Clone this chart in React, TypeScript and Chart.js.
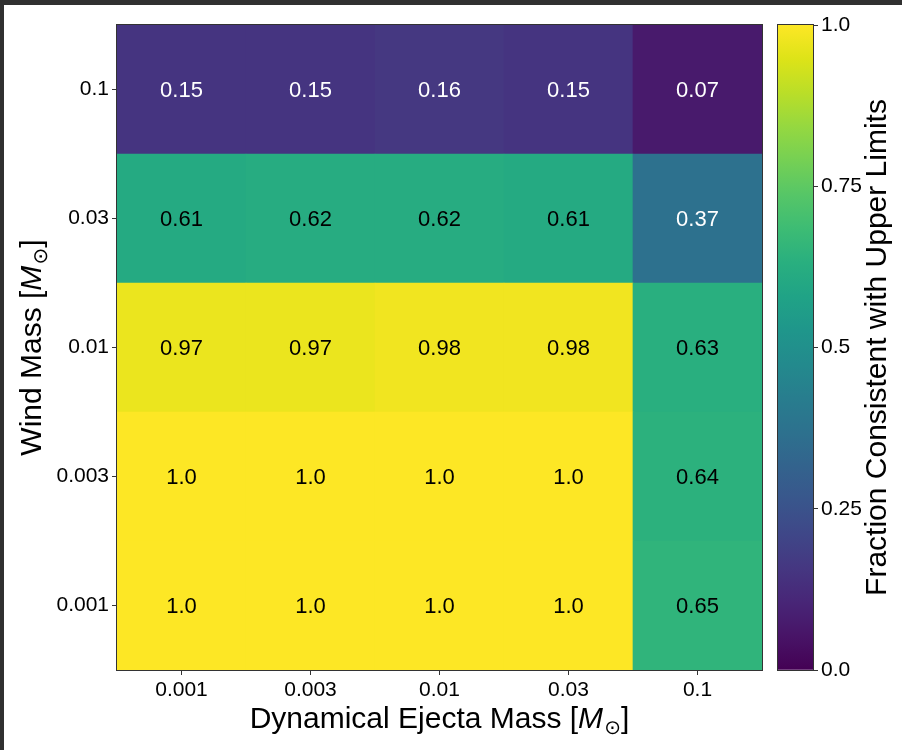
import React, { useEffect, useRef } from 'react';
import { Chart, registerables } from 'chart.js';

Chart.register(...registerables);

// ---------------- data ----------------
const ejectaLabels = ['0.001', '0.003', '0.01', '0.03', '0.1'];
const windLabels = ['0.1', '0.03', '0.01', '0.003', '0.001']; // top to bottom
const windRow_0_1 = [0.15, 0.15, 0.16, 0.15, 0.07];
const windRow_0_03 = [0.61, 0.62, 0.62, 0.61, 0.37];
const windRow_0_01 = [0.97, 0.97, 0.98, 0.98, 0.63];
const windRow_0_003 = [1.0, 1.0, 1.0, 1.0, 0.64];
const windRow_0_001 = [1.0, 1.0, 1.0, 1.0, 0.65];
const fractionRows = [windRow_0_1, windRow_0_03, windRow_0_01, windRow_0_003, windRow_0_001];
const colorbarTicks = [0, 0.25, 0.5, 0.75, 1.0];
const colorbarTickLabels = ['0.0', '0.25', '0.5', '0.75', '1.0'];
const xTitle = 'Dynamical Ejecta Mass ';
const yTitle = 'Wind Mass ';
const cbTitle = 'Fraction Consistent with Upper Limits';

// ---------------- styling ----------------
const FONT = '"Liberation Sans", Arial, Helvetica, sans-serif';
const SYMFONT = '"DejaVu Sans", "Liberation Sans", sans-serif';
const TITLE_SIZE = 30;
const TICK_SIZE = 21;
const CELL_SIZE = 22;
const FRAME = '#333333';

const VIRIDIS = [
  '#440154', '#481467', '#482677', '#453781', '#3f4788', '#39568c', '#33638d',
  '#2d718e', '#287d8e', '#238a8d', '#1f968b', '#20a386', '#29af7f', '#3dbc74',
  '#56c667', '#75d054', '#95d840', '#bade28', '#dde318', '#fde725',
];

function hexToRgb(h: string) {
  return [parseInt(h.slice(1, 3), 16), parseInt(h.slice(3, 5), 16), parseInt(h.slice(5, 7), 16)];
}

function viridis(v: number) {
  const t = Math.max(0, Math.min(1, v)) * (VIRIDIS.length - 1);
  const i = Math.min(Math.floor(t), VIRIDIS.length - 2);
  const f = t - i;
  const a = hexToRgb(VIRIDIS[i]);
  const b = hexToRgb(VIRIDIS[i + 1]);
  const c = a.map((x, k) => Math.round(x + (b[k] - x) * f));
  return `rgb(${c[0]},${c[1]},${c[2]})`;
}

function fmt(v: number) {
  return Number.isInteger(v) ? v.toFixed(1) : String(v);
}

function drawMassTitle(ctx: CanvasRenderingContext2D, prefix: string, cx: number, cy: number, rot: number, size: number) {
  const subSize = Math.round(size * 0.68);
  const parts = [
    { t: prefix + '[', f: `${size}px ${FONT}`, dy: 0 },
    { t: 'M', f: `italic ${size}px ${FONT}`, dy: 0 },
    { t: '\u2299', f: `${subSize}px ${SYMFONT}`, dy: size * 0.2 },
    { t: ']', f: `${size}px ${FONT}`, dy: 0 },
  ];
  ctx.save();
  let total = 0;
  const widths = parts.map((p) => {
    ctx.font = p.f;
    const w = ctx.measureText(p.t).width + (p.t === 'M' ? size * 0.04 : 0);
    total += w;
    return w;
  });
  ctx.translate(cx, cy);
  ctx.rotate(rot);
  ctx.fillStyle = '#000';
  ctx.textBaseline = 'alphabetic';
  ctx.textAlign = 'left';
  let x = -total / 2;
  parts.forEach((p, i) => {
    ctx.font = p.f;
    ctx.fillText(p.t, x, size * 0.36 + p.dy);
    x += widths[i];
  });
  ctx.restore();
}

const heatPlugin = {
  id: 'heatDecor',
  afterDatasetsDraw(chart: any) {
    const ctx = chart.ctx as CanvasRenderingContext2D;
    ctx.save();
    ctx.font = `${CELL_SIZE}px ${FONT}`;
    ctx.textAlign = 'center';
    ctx.textBaseline = 'middle';
    chart.data.datasets.forEach((ds: any, di: number) => {
      const meta = chart.getDatasetMeta(di);
      meta.data.forEach((el: any, j: number) => {
        const v = ds.fractions[j];
        ctx.fillStyle = v < 0.5 ? '#ffffff' : '#000000';
        ctx.fillText(fmt(v), el.x, (el.y + el.base) / 2 + 1);
      });
    });
    ctx.restore();
  },
  afterDraw(chart: any) {
    const ctx = chart.ctx as CanvasRenderingContext2D;
    const a = chart.chartArea;
    ctx.save();
    ctx.strokeStyle = FRAME;
    ctx.lineWidth = 1;
    ctx.strokeRect(a.left - 0.5, a.top - 0.5, a.right - a.left + 1, a.bottom - a.top + 1);
    ctx.restore();
    drawMassTitle(ctx, xTitle, (a.left + a.right) / 2, a.bottom + 47, 0, TITLE_SIZE);
    drawMassTitle(ctx, yTitle, a.left - 87, (a.top + a.bottom) / 2, -Math.PI / 2, TITLE_SIZE);
  },
};

const cbPlugin = {
  id: 'cbDecor',
  afterDraw(chart: any) {
    const ctx = chart.ctx as CanvasRenderingContext2D;
    const a = chart.chartArea;
    ctx.save();
    ctx.strokeStyle = FRAME;
    ctx.lineWidth = 1;
    ctx.strokeRect(a.left - 0.5, a.top - 0.5, a.right - a.left + 1, a.bottom - a.top + 1);
    ctx.translate(a.right + 65, (a.top + a.bottom) / 2);
    ctx.rotate(-Math.PI / 2);
    ctx.font = `${TITLE_SIZE}px ${FONT}`;
    ctx.fillStyle = '#000';
    ctx.textAlign = 'center';
    ctx.textBaseline = 'middle';
    ctx.fillText(cbTitle, 0, 0);
    ctx.restore();
  },
};

export default function App() {
  const heatRef = useRef<HTMLCanvasElement>(null);
  const cbRef = useRef<HTMLCanvasElement>(null);

  useEffect(() => {
    const nRows = windLabels.length;
    // stacked: bottom row first
    const datasets = fractionRows
      .map((row, i) => ({
        label: windLabels[i],
        data: row.map(() => 1),
        fractions: row,
        backgroundColor: row.map((v) => viridis(v)),
        borderWidth: 0,
        barPercentage: 1,
        categoryPercentage: 1,
      }))
      .reverse();

    const heat = new Chart(heatRef.current!, {
      type: 'bar',
      data: { labels: ejectaLabels, datasets: datasets as any },
      options: {
        responsive: false,
        animation: false,
        events: [],
        layout: { padding: { top: 25, left: 0, right: 8, bottom: 0 } },
        plugins: { legend: { display: false }, tooltip: { enabled: false } },
        scales: {
          x: {
            stacked: true,
            afterFit: (s: any) => { s.height = 80; },
            grid: { offset: false, drawOnChartArea: false, drawTicks: true, tickLength: 5, tickColor: FRAME },
            border: { display: false },
            ticks: { color: '#000', font: { family: FONT, size: TICK_SIZE }, padding: 3, maxRotation: 0 },
          },
          y: {
            stacked: true,
            min: 0,
            max: nRows,
            afterFit: (s: any) => { s.width = 117; },
            afterBuildTicks: (s: any) => { s.ticks = windLabels.map((_, i) => ({ value: nRows - 0.5 - i })); },
            grid: { drawOnChartArea: false, drawTicks: true, tickLength: 5, tickColor: FRAME },
            border: { display: false },
            ticks: {
              color: '#000',
              font: { family: FONT, size: TICK_SIZE },
              padding: 3,
              callback: (v: any) => windLabels[Math.round(nRows - 0.5 - Number(v))],
            },
          },
        },
      },
      plugins: [heatPlugin],
    });

    const cb = new Chart(cbRef.current!, {
      type: 'bar',
      data: {
        labels: ['cb'],
        datasets: [
          {
            data: [[colorbarTicks[0], colorbarTicks[colorbarTicks.length - 1]]] as any,
            backgroundColor: (c: any) => {
              const area = c.chart.chartArea;
              if (!area) return VIRIDIS[0];
              const g = c.chart.ctx.createLinearGradient(0, area.bottom, 0, area.top);
              VIRIDIS.forEach((col, i) => g.addColorStop(i / (VIRIDIS.length - 1), col));
              return g;
            },
            borderWidth: 0,
            barPercentage: 1,
            categoryPercentage: 1,
          },
        ],
      },
      options: {
        responsive: false,
        animation: false,
        events: [],
        layout: { padding: { top: 25, left: 8, right: 0, bottom: 80 } },
        plugins: { legend: { display: false }, tooltip: { enabled: false } },
        scales: {
          x: { display: false },
          y: {
            position: 'right',
            min: 0,
            max: 1,
            afterFit: (s: any) => { s.width = 89; },
            afterBuildTicks: (s: any) => { s.ticks = colorbarTicks.map((v) => ({ value: v })); },
            grid: { drawOnChartArea: false, drawTicks: true, tickLength: 5, tickColor: FRAME },
            border: { display: false },
            ticks: {
              color: '#000',
              font: { family: FONT, size: TICK_SIZE },
              padding: 3,
              callback: (v: any) => colorbarTickLabels[colorbarTicks.indexOf(Number(v))],
            },
          },
        },
      },
      plugins: [cbPlugin],
    });

    return () => {
      heat.destroy();
      cb.destroy();
    };
  }, []);

  return (
    <div style={{ position: 'absolute', left: 0, top: 0, width: 902, height: 750, background: '#fff', overflow: 'hidden' }}>
      <canvas ref={heatRef} width={770} height={750} style={{ position: 'absolute', left: 0, top: 0, width: 770, height: 750 }} />
      <canvas ref={cbRef} width={132} height={750} style={{ position: 'absolute', left: 770, top: 0, width: 132, height: 750 }} />
      <div style={{ position: 'absolute', left: 0, top: 0, width: 902, height: 5, background: '#303030' }} />
      <div style={{ position: 'absolute', left: 0, top: 0, width: 4, height: 750, background: '#303030' }} />
    </div>
  );
}
